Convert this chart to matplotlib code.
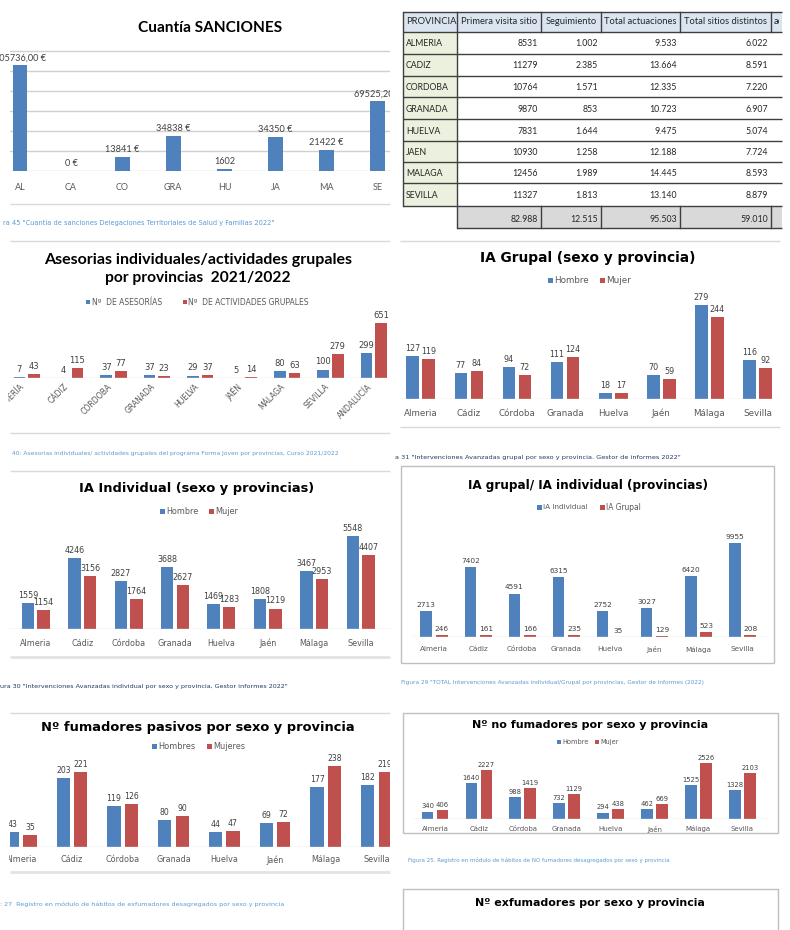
import matplotlib
matplotlib.use("Agg")
import matplotlib.pyplot as plt
import numpy as np
from matplotlib.patches import Rectangle
from matplotlib.transforms import Bbox, TransformedBbox

W, H = 790, 930
BLUE = "#4f81bd"
RED = "#c0504d"
TXT = "#404040"
CAT = "#595959"
LINE = "#d9d9d9"
CAP_LIGHT = "#5b9bd5"
CAP_NAVY = "#1f3864"

# ---- datos ----
sanc_cod = ["AL", "CA", "CO", "GRA", "HU", "JA", "MA", "SE"]
sanc_eur = [105736.00, 0, 13841, 34838, 1602, 34350, 21422, 69525.20]
sanc_txt = ["105736,00 €", "0 €", "13841 €", "34838 €", "1602", "34350 €", "21422 €", "69525,20 €"]

tabla_cols = ["PROVINCIA", "Primera visita sitio", "Seguimiento", "Total actuaciones",
              "Total sitios distintos", "actuaciones"]
tabla_prov = ["ALMERIA", "CADIZ", "CORDOBA", "GRANADA", "HUELVA", "JAEN", "MALAGA", "SEVILLA"]
primera_visita = [8531, 11279, 10764, 9870, 7831, 10930, 12456, 11327]
seguimiento = [1002, 2385, 1571, 853, 1644, 1258, 1989, 1813]
total_actuaciones = [9533, 13664, 12335, 10723, 9475, 12188, 14445, 13140]
total_sitios = [6022, 8591, 7220, 6907, 5074, 7724, 8593, 8879]

prov_ases = ["ALMERÍA", "CÁDIZ", "CÓRDOBA", "GRANADA", "HUELVA", "JAÉN", "MÁLAGA", "SEVILLA", "ANDALUCÍA"]
n_asesorias = [7, 4, 37, 37, 29, 5, 80, 100, 299]
n_actividades = [43, 115, 77, 23, 37, 14, 63, 279, 651]

provincias = ["Almeria", "Cádiz", "Córdoba", "Granada", "Huelva", "Jaén", "Málaga", "Sevilla"]
ia_grupal_h = [127, 77, 94, 111, 18, 70, 279, 116]
ia_grupal_m = [119, 84, 72, 124, 17, 59, 244, 92]
ia_indiv_h = [1559, 4246, 2827, 3688, 1469, 1808, 3467, 5548]
ia_indiv_m = [1154, 3156, 1764, 2627, 1283, 1219, 2953, 4407]
ia_total_indiv = [2713, 7402, 4591, 6315, 2752, 3027, 6420, 9955]
ia_total_grupal = [246, 161, 166, 235, 35, 129, 523, 208]
pasivos_h = [43, 203, 119, 80, 44, 69, 177, 182]
pasivos_m = [35, 221, 126, 90, 47, 72, 238, 219]
nofum_h = [340, 1640, 988, 732, 294, 462, 1525, 1328]
nofum_m = [406, 2227, 1419, 1129, 438, 669, 2526, 2103]

plt.rcParams["font.family"] = ["DejaVu Sans"]
fig = plt.figure(figsize=(W / 100, H / 100), dpi=100, facecolor="white")
bg = fig.add_axes([0, 0, 1, 1])
bg.set_xlim(0, W)
bg.set_ylim(H, 0)
bg.set_axis_off()
R = fig.canvas.get_renderer()


def clip(artist, box):
    x0, y0, x1, y1 = box
    bb = Bbox.from_extents(x0 / W, 1 - y1 / H, x1 / W, 1 - y0 / H)
    artist.set_clip_box(TransformedBbox(bb, fig.transFigure))
    artist.set_clip_on(True)


def fit(t, width):
    w = t.get_window_extent(R).width
    t.set_fontsize(t.get_fontsize() * width / w)
    return t


def fit_size(s, width, **kw):
    # tamaño de fuente para que s ocupe width px
    t = fit(bg.text(0, 0, s, **kw), width)
    size = t.get_fontsize()
    t.remove()
    return size


def txt(x, y, s, width=None, box=None, **kw):
    kw.setdefault("va", "center")
    t = bg.text(x, y, s, **kw)
    if width:
        fit(t, width)
    if box:
        clip(t, box)
    return t


def hline(y, x0, x1, color=LINE, lw=1):
    bg.plot([x0, x1], [y, y], color=color, lw=lw, solid_capstyle="butt")


def px_ax(x0, x1, y_top, y_base, c0, step, upp):
    ax = fig.add_axes([x0 / W, 1 - y_base / H, (x1 - x0) / W, (y_base - y_top) / H])
    ax.set_xlim((x0 - c0) / step, (x1 - c0) / step)
    ax.set_ylim(0, (y_base - y_top) * upp)
    ax.set_axis_off()
    ax.patch.set_visible(False)
    return ax


def bars(ax, values, pos, color, width, size, box, labels=None, dy=2.2, font="DejaVu Sans"):
    x = np.arange(len(values)) + pos
    ax.bar(x, values, width, color=color, linewidth=0)
    labels = labels or [str(v) for v in values]
    for xi, v, lab in zip(x, values, labels):
        t = ax.annotate(lab, (xi, v), xytext=(0, dy), textcoords="offset points",
                        ha="center", va="bottom", fontsize=size, color=TXT, family=font)
        clip(t, box)


def cats(ax, names, dy, size, box, font="DejaVu Sans", **kw):
    for i, c in enumerate(names):
        kw.setdefault("ha", "center")
        kw.setdefault("va", "top")
        t = ax.annotate(c, (i, 0), xytext=(0, -dy), textcoords="offset points",
                        fontsize=size, color=CAT, family=font, **kw)
        clip(t, box)


def legend(items, y, size, fs=None):
    for x, color, label, width in items:
        bg.add_patch(Rectangle((x - size / 2, y - size / 2), size, size, color=color, lw=0))
        if fs:
            txt(x + size / 2 + 1.5, y, label, color=CAT, ha="left", fontsize=fs)
        else:
            txt(x + size / 2 + 1.5, y, label, width=width, color=CAT, ha="left")


# ---- 1: Cuantía SANCIONES ----
box1 = (0, 0, 390, 235)
txt(210, 28, "Cuantía SANCIONES", width=143, ha="center", family="Lato", weight="bold", color="black")
ax1 = px_ax(10, 390, 50.5, 171, 20, 51.1, 1000)
ax1.set_axis_on()
for s in ax1.spines.values():
    s.set_visible(False)
ax1.set_yticks(np.arange(0, 120001, 20000))
ax1.set_xticks([])
ax1.tick_params(length=0, labelleft=False)
ax1.yaxis.grid(True, color="#d0d0d0", lw=1)
ax1.set_axisbelow(True)
bars(ax1, sanc_eur, 0, BLUE, 0.29, 6.6, box1, labels=sanc_txt, font="Lato")
cats(ax1, sanc_cod, 9, 6.5, box1, font="Lato")
hline(204, 10, 390)
txt(3, 223, "ra 45 \"Cuantía de sanciones Delegaciones Territoriales de Salud y Familias 2022\"",
    width=270, color=CAP_LIGHT, ha="left")

# ---- 2: tabla ----
box2 = (395, 0, 779, 235)
col_x = [403, 457, 541, 601, 680, 771, 782]
row_y = [12, 32, 54, 76, 97, 119, 141, 162, 183, 206, 228]
bg.add_patch(Rectangle((403, 12), 782 - 403, 20, color="#dbe5f1", lw=0))
for i in range(len(tabla_prov)):
    bg.add_patch(Rectangle((403, row_y[i + 1]), 54, row_y[i + 2] - row_y[i + 1], color="#ebf1de", lw=0))
bg.add_patch(Rectangle((457, 206), 782 - 457, 22, color="#d9d9d9", lw=0))
edge = "#3f3f3f"
for k, y in enumerate(row_y):
    hline(y, 403 if k < len(row_y) - 1 else 457, 782, color=edge, lw=1)
bg.plot([403, 403], [12, 206], color=edge, lw=1)
bg.plot([457, 457], [12, 228], color=edge, lw=1)
for x in col_x[2:6]:
    bg.plot([x, x], [12, 32], color=edge, lw=1)
    bg.plot([x, x], [206, 228], color=edge, lw=1)
hfs = fit_size(tabla_cols[1], 76, family="Lato")
dfs = fit_size(tabla_prov[0], 37, family="Lato")
txt(406, 22, tabla_cols[0], family="Lato", color="#262626", ha="left", fontsize=hfs)
for j, name in enumerate(tabla_cols[1:], start=1):
    if j < 5:
        txt((col_x[j] + col_x[j + 1]) / 2, 22, name, family="Lato", color="#262626", ha="center", fontsize=hfs)
    else:
        txt(col_x[j] + 3, 22, name, family="Lato", color="#262626", ha="left", fontsize=hfs, box=box2)
fmt = lambda v: f"{v:,}".replace(",", ".")
columnas = [primera_visita, seguimiento, total_actuaciones, total_sitios]
for i, prov in enumerate(tabla_prov):
    yc = (row_y[i + 1] + row_y[i + 2]) / 2 + 1
    txt(406, yc, prov, family="Lato", color="#262626", ha="left", fontsize=dfs)
    for j, col in enumerate(columnas, start=1):
        s = str(col[i]) if j == 1 else fmt(col[i])
        txt(col_x[j + 1] - 3, yc, s, family="Lato", color="#262626", ha="right", fontsize=dfs)
for j, col in enumerate(columnas, start=1):
    txt(col_x[j + 1] - 3, 219, fmt(sum(col)), family="Lato", color="#262626", ha="right", fontsize=dfs)

# ---- 3: Asesorias ----
box3 = (8, 235, 390, 470)
hline(241, 10, 390)
txt(198, 260, "Asesorias individuales/actividades grupales", width=310, ha="center",
    family="Lato", weight="bold", color="black")
txt(198, 278, "por provincias  2021/2022", width=186, ha="center", family="Lato", weight="bold", color="black")
legend([(88, BLUE, "Nº  DE ASESORÍAS", 70), (185, RED, "Nº  DE ACTIVIDADES GRUPALES", 120)], 302, 4)
ax3 = px_ax(8, 390, 313, 378, 26.7, 43.4, 11.84)
ax3.axhline(0, color=LINE, lw=1)
bars(ax3, n_asesorias, -0.168, BLUE, 0.265, 6, box3)
bars(ax3, n_actividades, 0.168, RED, 0.265, 6, box3)
cats(ax3, prov_ases, 3, 5.6, box3, ha="right", va="top", rotation=45)
hline(433, 10, 390)
txt(12, 453, "40: Asesorias individuales/ actividades grupales del programa Forma Joven por provincias, Curso 2021/2022",
    width=328, color=CAP_LIGHT, ha="left")

# ---- 4: IA Grupal ----
box4 = (395, 235, 782, 470)
hline(241, 400, 780)
txt(588, 258, "IA Grupal (sexo y provincia)", width=215, ha="center", weight="bold", color="black")
legend([(550, BLUE, "Hombre", 35), (602, RED, "Mujer", 25)], 280, 5)
ax4 = px_ax(400, 780, 300, 399, 420.8, 48.1, 2.97)
ax4.axhline(0, color=LINE, lw=1)
bars(ax4, ia_grupal_h, -0.166, BLUE, 0.264, 5.8, box4)
bars(ax4, ia_grupal_m, 0.166, RED, 0.264, 5.8, box4)
cats(ax4, provincias, 7, 6.3, box4)
hline(427, 400, 780)
txt(395, 457, "a 31 \"Intervenciones Avanzadas grupal por sexo y provincia. Gestor de informes 2022\"",
    width=282, color=CAP_NAVY, ha="left")

# ---- 5: IA Individual ----
box5 = (10, 470, 390, 700)
hline(471, 10, 390)
txt(197, 488, "IA Individual (sexo y provincias)", width=235, ha="center", weight="bold", color="black")
legend([(162, BLUE, "Hombre", 32), (211, RED, "Mujer", 23)], 511, 5)
ax5 = px_ax(10, 390, 525, 629, 35.8, 46.4, 59.5)
ax5.axhline(0, color=LINE, lw=1)
bars(ax5, ia_indiv_h, -0.168, BLUE, 0.27, 5.8, box5)
bars(ax5, ia_indiv_m, 0.168, RED, 0.27, 5.8, box5)
cats(ax5, provincias, 7, 5.8, box5)
hline(657, 10, 390, color="#e3e3e3", lw=2)
txt(0, 686, "ura 30 \"Intervenciones Avanzadas individual por sexo y provincia, Gestor informes 2022\"",
    width=287, color=CAP_NAVY, ha="left")

# ---- 6: IA grupal / IA individual ----
box6 = (395, 466, 782, 700)
bg.add_patch(Rectangle((401, 466), 373, 197, fill=False, edgecolor="#bfbfbf", lw=1))
txt(588, 485, "IA grupal/ IA individual (provincias)", width=240, ha="center", weight="bold", color="black")
legend([(539, BLUE, "IA Individual", 45), (602, RED, "IA Grupal", 35)], 507, 5)
ax6 = px_ax(401, 774, 530, 637, 434, 44.07, 105.6)
ax6.axhline(0, xmin=11 / 373, xmax=364 / 373, color=LINE, lw=1)
bars(ax6, ia_total_indiv, -0.175, BLUE, 0.265, 5.3, box6)
bars(ax6, ia_total_grupal, 0.175, RED, 0.265, 5.3, box6)
cats(ax6, provincias, 6.5, 5.2, box6)
txt(401, 682, "Figura 29 \"TOTAL Intervenciones Avanzadas individual/Grupal por provincias, Gestor de informes (2022)",
    width=300, color=CAP_LIGHT, ha="left")

# ---- 7: fumadores pasivos ----
box7 = (9, 700, 390, 930)
hline(713, 10, 390)
txt(198, 727, "Nº fumadores pasivos por sexo y provincia", width=314, ha="center", weight="bold", color="black")
legend([(154, BLUE, "Hombres", 37), (209, RED, "Mujeres", 32)], 746, 5)
ax7 = px_ax(10, 390, 760, 847, 21.2, 50.76, 2.93)
ax7.axhline(0, color=LINE, lw=1)
bars(ax7, pasivos_h, -0.171, BLUE, 0.262, 5.6, box7)
bars(ax7, pasivos_m, 0.171, RED, 0.262, 5.6, box7)
cats(ax7, provincias, 6, 5.8, box7)
hline(872, 10, 390, color="#e3e3e3", lw=2)
txt(0, 904, ": 27  Registro en módulo de hábitos de exfumadores desagregados por sexo y provincia",
    width=279, color=CAP_LIGHT, ha="left")

# ---- 8: no fumadores / exfumadores ----
box8 = (395, 700, 782, 930)
bg.add_patch(Rectangle((403, 713), 375, 120, fill=False, edgecolor="#bfbfbf", lw=1))
txt(590, 725, "Nº no fumadores por sexo y provincia", width=236, ha="center", weight="bold", color="black")
legend([(559, BLUE, "Hombre", 28), (597, RED, "Mujer", 25)], 742, 3.5, fs=4.8)
ax8 = px_ax(403, 778, 755, 819, 435, 43.9, 45.4)
ax8.axhline(0, xmin=10 / 375, xmax=365 / 375, color=LINE, lw=1)
bars(ax8, nofum_h, -0.171, BLUE, 0.267, 4.9, box8, dy=1.5)
bars(ax8, nofum_m, 0.171, RED, 0.267, 4.9, box8, dy=1.5)
cats(ax8, provincias, 5, 5, box8)
txt(408, 860, "Figura 25. Registro en módulo de hábitos de NO fumadores desagregados por sexo y provincia",
    width=260, color=CAP_LIGHT, ha="left")
bg.plot([403, 403, 778, 778], [935, 889, 889, 935], color="#bfbfbf", lw=1)
txt(590, 903, "Nº exfumadores por sexo y provincia", width=231, ha="center", weight="bold", color="black")

fig.savefig("out.png", dpi=100, facecolor="white")
